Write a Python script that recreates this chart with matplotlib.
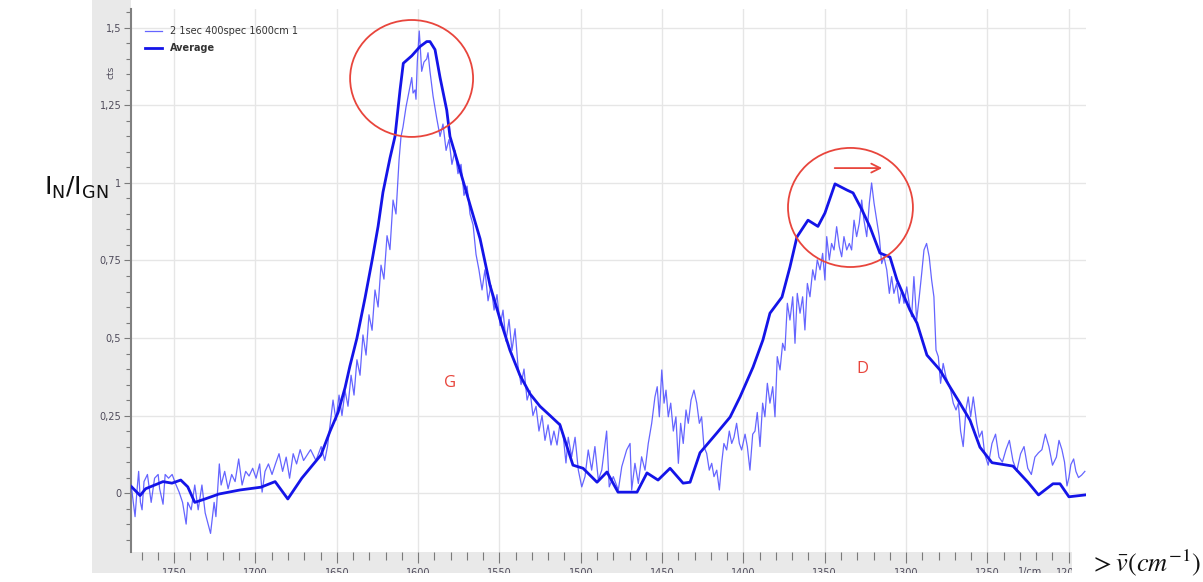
import matplotlib
matplotlib.use("Agg")
import matplotlib.pyplot as plt
from matplotlib.patches import Rectangle, Ellipse
from matplotlib.ticker import MultipleLocator, FixedLocator, FixedFormatter
import matplotlib.transforms as mtransforms

# ---------------- data ----------------
series_labels = ["2 1sec 400spec 1600cm 1", "Average"]

noisy_wn = [
    1776.4, 1774.0, 1772.9, 1771.8, 1770.7, 1769.7, 1768.5, 1766.4, 1764.1, 1762.0,
    1759.8, 1758.9, 1756.8, 1755.5, 1753.4, 1751.2, 1749.1, 1746.9, 1744.8, 1742.6,
    1741.6, 1739.5, 1737.3, 1735.2, 1732.9, 1730.9, 1728.6, 1727.6, 1725.4, 1724.3,
    1722.2, 1721.1, 1718.9, 1716.8, 1714.6, 1712.5, 1710.3, 1708.2, 1706.0, 1703.9,
    1701.7, 1699.6, 1697.4, 1695.9, 1694.1, 1692.0, 1689.8, 1687.7, 1685.5, 1683.3,
    1681.1, 1679.0, 1676.8, 1674.7, 1672.5, 1670.4, 1666.1, 1662.8, 1659.6, 1657.4,
    1655.7,
    1654.1, 1652.3, 1650.5, 1648.6, 1646.8, 1644.9, 1643.1, 1641.2, 1639.4, 1637.6,
    1635.7, 1633.9, 1632.0, 1630.2, 1628.3, 1626.5, 1624.6, 1622.8, 1621.0, 1619.1,
    1617.3, 1615.4, 1613.6, 1611.7, 1610.5, 1609.3, 1607.4, 1605.0, 1603.9, 1603.1,
    1601.9, 1601.3, 1600.5, 1599.3, 1598.8, 1597.8, 1596.4, 1594.7, 1593.9, 1592.7,
    1590.8, 1588.6, 1586.5, 1584.7, 1582.8, 1581.0, 1579.2, 1577.3, 1575.5, 1573.6,
    1571.8, 1569.9, 1568.1, 1566.2, 1564.4, 1562.6, 1560.7, 1558.9, 1557.0, 1555.2,
    1553.3, 1551.5, 1549.6, 1547.8, 1546.0, 1544.1, 1542.3, 1540.4, 1538.6, 1536.7,
    1534.9, 1533.0, 1531.2, 1529.4, 1527.5, 1525.7, 1523.8, 1522.0, 1520.1, 1518.3,
    1516.5, 1514.6,
    1512.8, 1510.7, 1509.1, 1507.7, 1505.6, 1503.5, 1501.5, 1499.4, 1497.4, 1495.4,
    1493.3, 1491.3, 1489.2, 1487.1, 1484.1, 1482.5, 1480.0, 1476.9, 1474.8, 1471.8,
    1469.7, 1468.7, 1466.7, 1464.6, 1462.6, 1460.5, 1458.5, 1456.4, 1454.4, 1453.0,
    1451.7, 1450.2, 1448.8, 1447.6, 1446.2, 1444.7, 1443.1, 1441.5, 1440.0, 1438.6,
    1437.0, 1435.3, 1433.9, 1432.2, 1430.4, 1428.7, 1427.1, 1425.7, 1424.3, 1422.6,
    1421.0, 1419.5, 1418.1, 1416.4, 1414.8, 1413.4, 1412.0, 1410.3, 1408.7, 1407.2,
    1405.8, 1404.2, 1402.5, 1401.1, 1399.0, 1397.6, 1396.0, 1394.3, 1392.9, 1391.5,
    1389.8, 1388.2, 1386.8, 1385.3, 1383.7, 1382.0, 1380.6, 1379.2, 1377.5, 1375.9,
    1374.5, 1373.0, 1371.4, 1369.7, 1368.3, 1366.9, 1365.2, 1363.6, 1362.2, 1360.7,
    1359.1, 1357.4, 1356.0, 1354.6, 1352.9, 1351.3, 1349.9, 1348.8, 1347.2, 1345.8,
    1344.3, 1342.7, 1341.1, 1339.6, 1338.2, 1336.5, 1334.9, 1333.5, 1332.0, 1330.4,
    1328.8, 1327.3, 1325.9, 1324.2, 1322.6, 1321.2, 1319.7, 1318.1, 1316.5, 1315.0,
    1313.6, 1311.9, 1310.3, 1308.9, 1307.5, 1305.8, 1304.2, 1302.7, 1301.3, 1299.6,
    1298.1, 1296.6, 1295.2, 1293.5, 1291.9, 1290.4, 1289.0, 1287.4, 1285.8, 1284.3,
    1282.9, 1281.6, 1280.2, 1278.8, 1277.2, 1275.5, 1274.1, 1272.6, 1271.0, 1269.3,
    1267.9, 1266.5, 1264.9, 1263.2, 1261.8, 1260.3, 1258.7, 1256.6, 1255.0,
    1253.3, 1251.7, 1249.5, 1247.2, 1245.0, 1242.9, 1240.8, 1238.6, 1236.5, 1234.3,
    1232.0, 1229.6, 1227.5, 1225.2, 1223.0, 1220.8, 1218.6, 1216.5, 1214.4, 1212.2,
    1210.0, 1207.6, 1206.0, 1204.2, 1202.6, 1201.1, 1199.9, 1198.7, 1197.0, 1195.6,
    1194.0, 1192.1, 1190.1,
]

noisy_int = [
    0.026, -0.076, 0.003, 0.07, -0.03, -0.054, 0.037, 0.06, -0.03, 0.048,
    0.06, 0.014, -0.036, 0.06, 0.048, 0.06, 0.03, 0.003, -0.03, -0.1,
    -0.03, -0.054, 0.026, -0.054, 0.026, -0.064, -0.11, -0.13, -0.03, -0.076,
    0.094, 0.026, 0.07, 0.014, 0.06, 0.037, 0.11, 0.026, 0.07, 0.055,
    0.08, 0.048, 0.094, 0.003, 0.07, 0.094, 0.06, 0.094, 0.127, 0.07,
    0.116, 0.048, 0.127, 0.094, 0.14, 0.105, 0.14, 0.105, 0.15, 0.105,
    0.15,
    0.22, 0.3, 0.235, 0.316, 0.25, 0.33, 0.28, 0.38, 0.316, 0.43,
    0.38, 0.51, 0.445, 0.575, 0.525, 0.655, 0.6, 0.735, 0.69, 0.83,
    0.785, 0.945, 0.9, 1.075, 1.15, 1.18, 1.246, 1.31, 1.34, 1.29,
    1.3, 1.27, 1.39, 1.49, 1.45, 1.36, 1.39, 1.4, 1.42, 1.36,
    1.28, 1.21, 1.15, 1.19, 1.105, 1.14, 1.06, 1.105, 1.03, 1.06,
    0.96, 0.99, 0.9, 0.865, 0.77, 0.72, 0.655, 0.72, 0.62, 0.67,
    0.59, 0.64, 0.54, 0.59, 0.49, 0.56, 0.46, 0.53, 0.41, 0.35,
    0.4, 0.3, 0.33, 0.25, 0.28, 0.2, 0.25, 0.17, 0.22, 0.155,
    0.2, 0.155,
    0.225, 0.18, 0.097, 0.18, 0.117, 0.18, 0.074, 0.02, 0.053, 0.139,
    0.074, 0.15, 0.042, 0.074, 0.2, 0.02, 0.053, 0.01, 0.085, 0.139,
    0.16, 0.01, 0.096, 0.031, 0.117, 0.074, 0.16, 0.225, 0.31, 0.343,
    0.246, 0.397, 0.29, 0.332, 0.246, 0.29, 0.2, 0.246, 0.096, 0.225,
    0.16, 0.268, 0.225, 0.3, 0.332, 0.29, 0.225, 0.246, 0.15, 0.128,
    0.074, 0.096, 0.053, 0.074, 0.01, 0.096, 0.16, 0.139, 0.2, 0.16,
    0.18, 0.225, 0.16, 0.139, 0.19, 0.15, 0.074, 0.19, 0.2, 0.26,
    0.15, 0.29, 0.246, 0.354, 0.29, 0.343, 0.246, 0.44, 0.397, 0.483,
    0.46, 0.612, 0.558, 0.633, 0.483, 0.644, 0.58, 0.633, 0.526, 0.676,
    0.633, 0.72, 0.687, 0.752, 0.72, 0.773, 0.687, 0.827, 0.752, 0.805,
    0.784, 0.859, 0.795, 0.762, 0.827, 0.784, 0.805, 0.784, 0.88, 0.827,
    0.87, 0.945, 0.88, 0.827, 0.935, 1.0, 0.935, 0.88, 0.827, 0.74,
    0.762, 0.72, 0.644, 0.698, 0.644, 0.676, 0.612, 0.655, 0.612, 0.665,
    0.612, 0.569, 0.698, 0.558, 0.633, 0.709, 0.784, 0.805, 0.762, 0.687,
    0.633, 0.461, 0.44, 0.354, 0.418, 0.375, 0.354, 0.332, 0.29, 0.268,
    0.29, 0.2, 0.15, 0.268, 0.31, 0.246, 0.31, 0.225, 0.18,
    0.2, 0.127, 0.09, 0.16, 0.19, 0.116, 0.1, 0.14, 0.17, 0.104,
    0.07, 0.127, 0.15, 0.08, 0.06, 0.116, 0.13, 0.14, 0.19, 0.15,
    0.09, 0.116, 0.17, 0.14, 0.1, 0.023, 0.05, 0.092, 0.11, 0.07,
    0.05, 0.058, 0.07,
]

avg_wn = [
    1776.1, 1770.9, 1767.5, 1756.8, 1751.3, 1745.9, 1741.6, 1737.3, 1731.0, 1722.4,
    1709.5, 1696.6, 1687.9, 1680.1, 1671.5, 1659.7, 1654.1, 1649.2, 1644.9, 1641.9,
    1637.6, 1632.6, 1628.3, 1624.6, 1621.6, 1617.3, 1614.2, 1611.1, 1609.1, 1603.9,
    1598.8, 1594.7, 1592.7, 1589.6, 1586.5, 1582.4, 1580.4, 1574.2, 1568.1, 1561.9,
    1555.8, 1549.6, 1543.5, 1537.4, 1531.2, 1525.1, 1518.9, 1512.8, 1504.8, 1498.6,
    1490.0, 1483.9, 1477.1, 1465.4, 1459.3, 1452.5, 1445.1, 1437.1, 1432.8, 1426.7,
    1416.3, 1408.2, 1402.1, 1394.1, 1388.0, 1383.7, 1376.3, 1371.4, 1367.1, 1360.3,
    1354.2, 1349.9, 1343.7, 1336.3, 1332.6, 1327.1, 1322.2, 1316.1, 1309.9, 1305.6,
    1297.6, 1293.3, 1287.2, 1279.2, 1273.0, 1266.9, 1260.7, 1254.6, 1247.2, 1234.3,
    1225.1, 1218.6, 1209.7, 1205.4, 1199.9, 1190.0,
]

avg_int = [
    0.02, -0.008, 0.014, 0.037, 0.032, 0.042, 0.02, -0.03, -0.019, -0.003,
    0.01, 0.019, 0.037, -0.019, 0.048, 0.123, 0.2, 0.26, 0.34, 0.41,
    0.5, 0.63, 0.75, 0.86, 0.97, 1.08, 1.15, 1.3, 1.386, 1.41,
    1.44, 1.456, 1.456, 1.43, 1.34, 1.235, 1.15, 1.04, 0.93, 0.82,
    0.67, 0.56, 0.46, 0.38, 0.32, 0.28, 0.25, 0.22, 0.09, 0.08,
    0.035, 0.068, 0.003, 0.003, 0.065, 0.042, 0.08, 0.032, 0.035, 0.13,
    0.194, 0.245, 0.31, 0.406, 0.494, 0.58, 0.632, 0.729, 0.826, 0.88,
    0.86, 0.903, 0.997, 0.977, 0.968, 0.913, 0.858, 0.774, 0.761, 0.687,
    0.59, 0.548, 0.445, 0.397, 0.342, 0.29, 0.235, 0.148, 0.098, 0.087,
    0.035, -0.006, 0.03, 0.03, -0.012, -0.006,
]

xticks = [1750, 1700, 1650, 1600, 1550, 1500, 1450, 1400, 1350, 1300, 1250, 1200]
xtick_labels = ["1750", "1700", "1650", "1600", "1550", "1500", "1450", "1400",
                "1350", "1300", "1250", "1200"]
yticks = [0, 0.25, 0.5, 0.75, 1.0, 1.25, 1.5]
ytick_labels = ["0", "0,25", "0,5", "0,75", "1", "1,25", "1,5"]

# ---------------- figure ----------------
W, H = 1203, 582
fig = plt.figure(figsize=(W / 100, H / 100), dpi=100)
fig.patch.set_facecolor("white")

def fx(px):
    return px / W

def fy(py):
    return 1 - py / H

ax_l, ax_r, ax_t, ax_b = 131, 1086, 9, 552
ax = fig.add_axes([fx(ax_l), fy(ax_b), (ax_r - ax_l) / W, (ax_b - ax_t) / H])

panel = "#e9e9e9"
cut_y = 573
fig.add_artist(Rectangle((fx(92), fy(cut_y)), fx(131 - 92), cut_y / H,
                         facecolor=panel, edgecolor="none", zorder=-1))
fig.add_artist(Rectangle((fx(131), fy(cut_y)), fx(1072 - 131), (cut_y - 552) / H,
                         facecolor=panel, edgecolor="none", zorder=-1))

thin_c = "#4a4aff"
thick_c = "#1414e8"
ax.plot(noisy_wn, noisy_int, color=thin_c, lw=0.9, alpha=0.85,
        label=series_labels[0], zorder=3)
ax.plot(avg_wn, avg_int, color=thick_c, lw=2.0, label=series_labels[1], zorder=4)

ax.set_xlim(1776.5, 1189.4)
ax.set_ylim(-0.19, 1.561)

ax.xaxis.set_major_locator(FixedLocator(xticks))
ax.xaxis.set_major_formatter(FixedFormatter(xtick_labels))
ax.xaxis.set_minor_locator(MultipleLocator(10))
ax.yaxis.set_major_locator(FixedLocator(yticks))
ax.yaxis.set_major_formatter(FixedFormatter(ytick_labels))
ax.yaxis.set_minor_locator(MultipleLocator(0.05))

tick_col = "#7a7a7a"
lab_col = "#4e4a5a"
ax.tick_params(axis="y", which="major", direction="out", length=5.0, width=0.8,
               color=tick_col, labelsize=7, labelcolor=lab_col, pad=2)
ax.tick_params(axis="y", which="minor", direction="out", length=3.5, width=0.8,
               color=tick_col)
ax.tick_params(axis="x", which="major", direction="out", length=8, width=0.8,
               color=tick_col, labelsize=7, labelcolor=lab_col, pad=3.5)
ax.tick_params(axis="x", which="minor", direction="out", length=5.5, width=0.8,
               color=tick_col)

ax.grid(True, which="major", color="#e6e6e6", lw=1.0, zorder=0)
ax.set_axisbelow(True)
for s in ["top", "right", "bottom"]:
    ax.spines[s].set_visible(False)
ax.spines["left"].set_color("#808080")
ax.spines["left"].set_linewidth(1.5)

# legend
leg = ax.legend(loc="upper left",
                bbox_to_anchor=((145 - ax_l) / (ax_r - ax_l), 1 - (26 - ax_t) / (ax_b - ax_t)),
                frameon=False, fontsize=7, handlelength=1.7, handletextpad=0.9,
                labelspacing=0.75, borderpad=0, borderaxespad=0)
for t in leg.get_texts():
    t.set_color("#333333")
leg.get_texts()[1].set_fontweight("bold")

# "cts" label on the y axis panel
fig.text(fx(111), fy(72), "cts", rotation=90, fontsize=6.5, color=lab_col,
         ha="center", va="center")

# unit in x bar
trans = mtransforms.blended_transform_factory(ax.transData, ax.transAxes)
ax.text(1224, -(567 - ax_b) / (ax_b - ax_t), "1/cm", transform=trans, fontsize=7,
        color=lab_col, ha="center", va="top", clip_on=False)

# annotations
red = "#e8453c"
ax.add_patch(Ellipse((1604.0, 1.337), 75.6, 0.377, fill=False, ec=red, lw=1.3, zorder=5))
ax.add_patch(Ellipse((1334.2, 0.921), 76.8, 0.384, fill=False, ec=red, lw=1.3, zorder=5))
ax.annotate("", xy=(1313.0, 1.048), xytext=(1345.6, 1.048),
            arrowprops=dict(arrowstyle="->", color=red, lw=1.3, mutation_scale=16),
            zorder=5)
ax.text(1580.4, 0.355, "G", color=red, fontsize=12, ha="center", va="center",
        family="Open Sans")
ax.text(1327.1, 0.40, "D", color=red, fontsize=12, ha="center", va="center",
        family="Open Sans")

# white covers (cut-off tick labels)
fig.add_artist(Rectangle((0, 0), 1, (H - cut_y) / H, facecolor="white",
                         edgecolor="none", zorder=5))
fig.add_artist(Rectangle((fx(1072), 0), 1 - fx(1072), (H - 552) / H,
                         facecolor="white", edgecolor="none", zorder=5))

# y label
fig.text(fx(76), fy(188), r"$\mathrm{I_N/I_{GN}}$", fontsize=18, ha="center",
         va="center", math_fontfamily="dejavusans", color="#111111")
# x label
fig.text(fx(1146), fy(563), r"$>\bar{v}(cm^{-1})$", fontsize=19, ha="center",
         va="center", math_fontfamily="stix", color="#111111", zorder=6)

fig.savefig("out.png", dpi=100)
